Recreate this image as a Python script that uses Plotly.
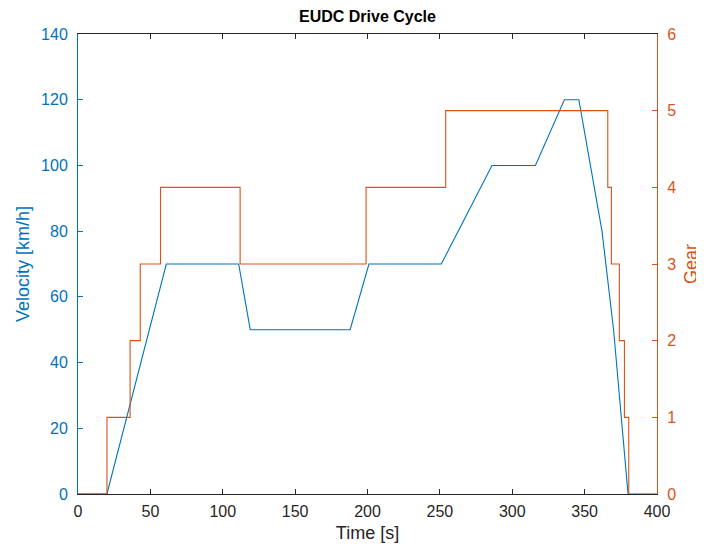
import plotly.graph_objects as go

# Velocity profile (EUDC)
time_v = [0, 20, 61, 111, 119, 188, 201, 251, 286, 316, 336, 346, 362, 370, 380, 400]
velocity = [0, 0, 70, 70, 50, 50, 70, 70, 100, 100, 120, 120, 80, 50, 0, 0]

# Gear profile (step changes)
time_g = [0, 19, 20, 36, 43, 57, 112, 199, 254, 366, 368.5, 374, 377.5, 380.5]
gear = [0, 0, 1, 2, 3, 4, 3, 4, 5, 4, 3, 2, 1, 0]

x_ticks = [0, 50, 100, 150, 200, 250, 300, 350, 400]
v_ticks = [0, 20, 40, 60, 80, 100, 120, 140]
g_ticks = [0, 1, 2, 3, 4, 5, 6]

BLUE = "#0072BD"
ORANGE = "#D95319"
DARK = "#262626"
FONT = "Liberation Sans, Arial, sans-serif"

fig = go.Figure()
fig.add_trace(go.Scatter(x=time_v, y=velocity, mode="lines",
                         line=dict(color=BLUE, width=1.1), name="Velocity"))
fig.add_trace(go.Scatter(x=time_g, y=gear, mode="lines", yaxis="y2",
                         line=dict(color=ORANGE, width=1.1, shape="hv"), name="Gear"))

fig.update_layout(
    width=696, height=535,
    margin=dict(l=70, r=47, t=26, b=49),
    paper_bgcolor="white", plot_bgcolor="white",
    showlegend=False,
    font=dict(family=FONT, size=16, color=DARK),
    title=dict(text="<b>EUDC Drive Cycle</b>", x=0.5, xanchor="center",
               xref="paper", y=0.985, yanchor="middle",
               font=dict(family=FONT, size=16, color="black")),
    xaxis=dict(range=[0, 400], tickvals=x_ticks, automargin=False,
               showgrid=False, zeroline=False, showline=True, linecolor=DARK, linewidth=1,
               mirror="ticks", ticks="inside", ticklen=5, tickcolor=DARK,
               layer="above traces", ticklabelstandoff=3,
               tickfont=dict(size=16, color=DARK),
               title=dict(text="Time [s]", font=dict(size=18, color=DARK), standoff=8)),
    yaxis=dict(range=[0, 140], tickvals=v_ticks, automargin=False,
               showgrid=False, zeroline=False, showline=True, linecolor=BLUE, linewidth=1,
               ticks="inside", ticklen=5, tickcolor=BLUE,
               layer="above traces", ticklabelstandoff=6,
               tickfont=dict(size=16, color=BLUE),
               title=dict(text="Velocity [km/h]", font=dict(size=18, color=BLUE), standoff=6)),
    yaxis2=dict(range=[0, 6], tickvals=g_ticks, overlaying="y", side="right", automargin=False,
                showgrid=False, zeroline=False, showline=True, linecolor=ORANGE, linewidth=1,
                ticks="inside", ticklen=5, tickcolor=ORANGE,
                layer="above traces", ticklabelstandoff=6,
                tickfont=dict(size=16, color=ORANGE)),
    annotations=[dict(text="Gear", xref="paper", yref="paper", x=1, y=0.5,
                      xanchor="center", yanchor="middle", xshift=34, textangle=-90,
                      showarrow=False, font=dict(family=FONT, size=18, color=ORANGE))],
)

fig.write_html("out.html")
